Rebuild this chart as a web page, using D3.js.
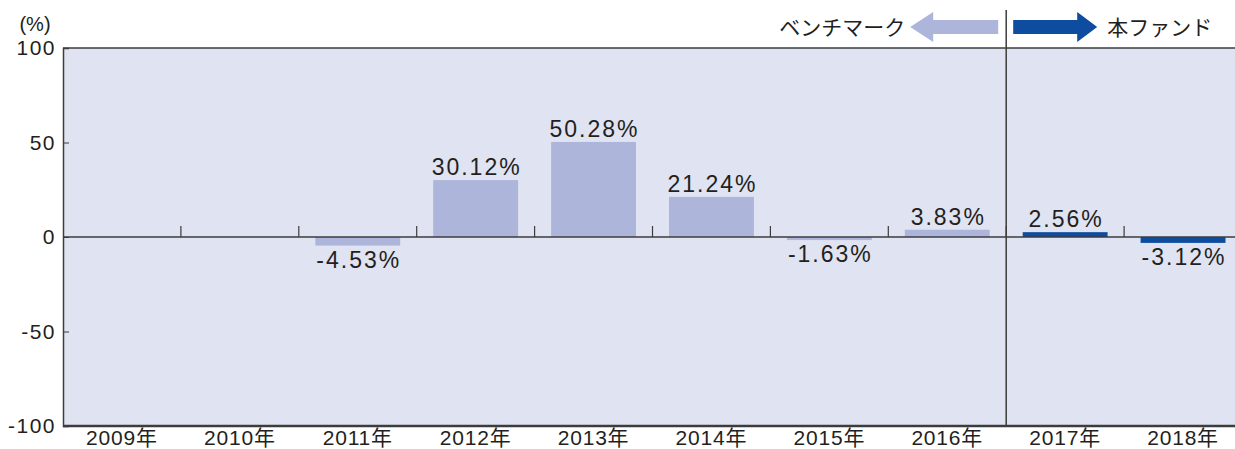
<!DOCTYPE html>
<html>
<head>
<meta charset="utf-8">
<script src="https://cdn.jsdelivr.net/npm/d3@7"></script>
<style>
  body { margin: 0; background: #fff; }
  text { font-family: "Liberation Sans", Arial, "Noto Sans CJK JP", sans-serif; fill: #231f20; }
</style>
</head>
<body>
<div id="chart"></div>
<script>
const width = 1235,
    height = 449,
    margin = { top: 48, bottom: 23, left: 63, right: 0 };

// data
const years = ["2009年", "2010年", "2011年", "2012年", "2013年", "2014年", "2015年", "2016年", "2017年", "2018年"];
const benchmark = [null, null, -4.53, 30.12, 50.28, 21.24, -1.63, 3.83, null, null];
const fund = [null, null, null, null, null, null, null, null, 2.56, -3.12];
const yTicks = [100, 50, 0, -50, -100];
const legendLabels = ["ベンチマーク", "本ファンド"];

const benchColor = "#adb5da",
    fundColor = "#0d4c9e",
    bgColor = "#e0e3f1",
    axisColor = "#3c3c3c";

const svg = d3.select("#chart")
    .append("svg")
    .attr("width", width)
    .attr("height", height);

// the last band runs a little past the right edge of the picture
const xScale = d3.scaleBand()
    .domain(years)
    .range([margin.left, width + 7])
    .paddingInner(0.28)
    .paddingOuter(0.14);

const yScale = d3.scaleLinear()
    .domain([-100, 100])
    .range([height - margin.bottom, margin.top]);

const step = xScale.step();
const gapHalf = step * xScale.paddingInner() / 2;

// plot background
svg.append("rect")
    .attr("x", margin.left)
    .attr("y", margin.top)
    .attr("width", width - margin.left)
    .attr("height", yScale(-100) - yScale(100))
    .attr("fill", bgColor);

// top line
svg.append("line")
    .attr("x1", margin.left).attr("x2", width)
    .attr("y1", margin.top).attr("y2", margin.top)
    .attr("stroke", axisColor).attr("stroke-width", 1.3);

// bars
const rows = years.map((y, i) => ({ year: y, bench: benchmark[i], fund: fund[i] }));

function drawBars(key, color) {
    const d = rows.filter(r => r[key] !== null);
    svg.selectAll(".bar-" + key)
        .data(d)
        .join("rect")
        .attr("class", "bar-" + key)
        .attr("x", r => xScale(r.year))
        .attr("width", xScale.bandwidth())
        .attr("y", r => yScale(Math.max(0, r[key])))
        .attr("height", r => Math.abs(yScale(r[key]) - yScale(0)))
        .attr("fill", color);

    svg.selectAll(".label-" + key)
        .data(d)
        .join("text")
        .attr("class", "label-" + key)
        .attr("x", r => xScale(r.year) + xScale.bandwidth() / 2 + 1)
        .attr("y", r => r[key] >= 0 ? yScale(r[key]) - 5 : yScale(r[key]) + 22)
        .attr("text-anchor", "middle")
        .attr("font-size", 23)
        .attr("letter-spacing", 2)
        .text(r => r[key].toFixed(2) + "%");
}
drawBars("bench", benchColor);
drawBars("fund", fundColor);

// zero line
svg.append("line")
    .attr("x1", margin.left).attr("x2", width)
    .attr("y1", yScale(0)).attr("y2", yScale(0))
    .attr("stroke", axisColor).attr("stroke-width", 1.3);

// category ticks on the zero line
svg.selectAll(".cat-tick")
    .data(years.slice(1))
    .join("line")
    .attr("class", "cat-tick")
    .attr("x1", d => xScale(d) - gapHalf)
    .attr("x2", d => xScale(d) - gapHalf)
    .attr("y1", yScale(0) - 11)
    .attr("y2", yScale(0))
    .attr("stroke", axisColor).attr("stroke-width", 1.2);

// y axis
const yAxis = d3.axisLeft(yScale)
    .tickValues(yTicks)
    .tickSize(-6)
    .tickPadding(7)
    .tickFormat(d => String(d));

const yAxisGroup = svg.append("g")
    .attr("class", "yAxis")
    .attr("transform", `translate(${margin.left}, 0)`)
    .call(yAxis);
yAxisGroup.select(".domain").attr("stroke", axisColor).attr("stroke-width", 1.5);
yAxisGroup.selectAll(".tick line").attr("stroke", axisColor);
yAxisGroup.selectAll(".tick text")
    .attr("font-size", 21)
    .attr("letter-spacing", 1.5)
    .attr("fill", "#231f20")
    .attr("font-family", "'Liberation Sans', Arial, sans-serif");

// x axis
const xAxis = d3.axisBottom(xScale).tickSize(0).tickPadding(4);
const xAxisGroup = svg.append("g")
    .attr("class", "xAxis")
    .attr("transform", `translate(0, ${height - margin.bottom})`)
    .call(xAxis);
xAxisGroup.select(".domain").remove();
svg.append("line")
    .attr("x1", margin.left).attr("x2", width)
    .attr("y1", yScale(-100)).attr("y2", yScale(-100))
    .attr("stroke", axisColor).attr("stroke-width", 2.5);
xAxisGroup.selectAll(".tick text")
    .attr("font-size", 21)
    .attr("letter-spacing", 0.8)
    .attr("fill", "#231f20")
    .attr("font-family", "'Liberation Sans', Arial, 'Noto Sans CJK JP', sans-serif");

// unit label
svg.append("text")
    .attr("x", 35).attr("y", 31)
    .attr("text-anchor", "middle")
    .attr("font-size", 20)
    .text("(%)");

// divider between benchmark and fund
const divX = xScale(years[8]) - gapHalf;
svg.append("line")
    .attr("x1", divX).attr("x2", divX)
    .attr("y1", 10).attr("y2", yScale(-100))
    .attr("stroke", axisColor).attr("stroke-width", 1.5);

// legend arrows
const ay = 27;
svg.append("path")
    .attr("d", `M${divX - 8},${ay - 7} L${divX - 73},${ay - 7} L${divX - 73},${ay - 15} L${divX - 96},${ay} L${divX - 73},${ay + 15} L${divX - 73},${ay + 7} L${divX - 8},${ay + 7} Z`)
    .attr("fill", benchColor);
svg.append("path")
    .attr("d", `M${divX + 7},${ay - 7} L${divX + 71},${ay - 7} L${divX + 71},${ay - 15} L${divX + 91},${ay} L${divX + 71},${ay + 15} L${divX + 71},${ay + 7} L${divX + 7},${ay + 7} Z`)
    .attr("fill", fundColor);

svg.append("text")
    .attr("x", divX - 101).attr("y", ay + 8)
    .attr("text-anchor", "end")
    .attr("font-size", 21)
    .attr("font-family", "'Noto Sans CJK JP', sans-serif")
    .text(legendLabels[0]);
svg.append("text")
    .attr("x", divX + 101).attr("y", ay + 8)
    .attr("font-size", 21)
    .attr("font-family", "'Noto Sans CJK JP', sans-serif")
    .text(legendLabels[1]);
</script>
</body>
</html>
